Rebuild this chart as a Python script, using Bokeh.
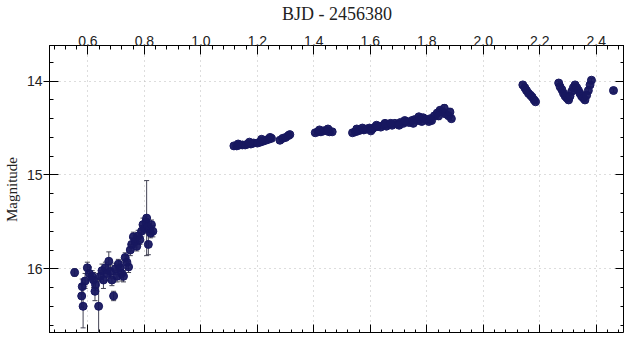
from bokeh.plotting import figure
from bokeh.models import (ColumnDataSource, LinearAxis, Range1d, SingleIntervalTicker,
                          NumeralTickFormatter, Whisker, TeeHead)
from bokeh.embed import file_html
from bokeh.resources import INLINE

# ---- data ----
# night 1: faint, with error bars
x1 = [0.553, 0.578, 0.580, 0.583, 0.590, 0.598, 0.605, 0.615, 0.620, 0.625, 0.627, 0.638,
      0.644, 0.650, 0.655, 0.662, 0.668, 0.674, 0.680, 0.685, 0.691, 0.697, 0.703, 0.708,
      0.714, 0.720, 0.726, 0.732, 0.738, 0.744, 0.750, 0.755, 0.761, 0.767, 0.773, 0.778,
      0.784, 0.790, 0.795, 0.800, 0.805, 0.808, 0.812, 0.814, 0.818, 0.822, 0.825, 0.830]
m1 = [16.04, 16.29, 16.19, 16.40, 16.13, 15.99, 16.05, 16.08, 16.12, 16.24, 16.17, 16.40,
      16.08, 16.02, 16.12, 15.99, 16.05, 15.92, 16.03, 16.12, 16.29, 16.00, 16.08, 15.95,
      15.99, 16.05, 16.08, 15.88, 15.93, 15.98, 15.80, 15.74, 15.66, 15.71, 15.76, 15.65,
      15.69, 15.60, 15.53, 15.57, 15.50, 15.46, 15.55, 15.74, 15.58, 15.62, 15.53, 15.60]
e1 = [0.04, 0.12, 0.08, 0.23, 0.08, 0.06, 0.07, 0.06, 0.08, 0.10, 0.06, 0.35,
      0.06, 0.07, 0.09, 0.06, 0.08, 0.10, 0.07, 0.06, 0.05, 0.06, 0.06, 0.05,
      0.07, 0.08, 0.06, 0.05, 0.07, 0.06, 0.06, 0.07, 0.05, 0.06, 0.05, 0.06,
      0.05, 0.06, 0.07, 0.05, 0.06, 0.40, 0.05, 0.11, 0.06, 0.05, 0.05, 0.06]

# night 2: brighter, small errors
x2 = [1.117, 1.127, 1.137, 1.147, 1.157, 1.167, 1.177, 1.187,
      1.200, 1.210, 1.220, 1.230, 1.240, 1.250,
      1.280, 1.290, 1.300, 1.310, 1.315,
      1.405, 1.415, 1.425, 1.435, 1.445, 1.455, 1.465,
      1.537, 1.547, 1.557, 1.567, 1.577, 1.587, 1.597, 1.607, 1.617, 1.627,
      1.637, 1.647, 1.657, 1.667, 1.677, 1.687, 1.697, 1.707, 1.717, 1.727,
      1.737, 1.747, 1.757, 1.767, 1.777, 1.787, 1.797, 1.807, 1.817, 1.827,
      1.837, 1.847, 1.857, 1.867, 1.877, 1.887,
      1.552, 1.602, 1.652, 1.702, 1.752, 1.782, 1.842, 1.862, 1.882,
      1.132, 1.172, 1.215, 1.245, 1.420, 1.450, 1.572, 1.622, 1.672, 1.722, 1.772, 1.812]
m2 = [14.69, 14.69, 14.68, 14.68, 14.68, 14.67, 14.67, 14.66,
      14.66, 14.65, 14.64, 14.63, 14.62, 14.61,
      14.63, 14.61, 14.60, 14.58, 14.57,
      14.55, 14.54, 14.54, 14.53, 14.53, 14.54, 14.54,
      14.55, 14.54, 14.53, 14.52, 14.52, 14.51, 14.50, 14.51, 14.49, 14.48,
      14.49, 14.47, 14.48, 14.46, 14.47, 14.45, 14.46, 14.44, 14.45, 14.43,
      14.44, 14.42, 14.41, 14.42, 14.40, 14.39, 14.41, 14.43, 14.42, 14.37,
      14.34, 14.31, 14.33, 14.35, 14.37, 14.40,
      14.51, 14.53, 14.45, 14.47, 14.45, 14.43, 14.37, 14.29, 14.33,
      14.67, 14.65, 14.62, 14.60, 14.52, 14.51, 14.50, 14.47, 14.45, 14.42, 14.38, 14.40]
e2 = [0.02] * 62 + [0.03, 0.02, 0.03, 0.02, 0.03, 0.03, 0.04, 0.04, 0.04] + [0.02] * 12

# night 3
x3 = [2.140, 2.147, 2.153, 2.160, 2.167, 2.173, 2.180, 2.185,
      2.267, 2.272, 2.278, 2.284, 2.290, 2.296, 2.302, 2.307, 2.313, 2.319, 2.325,
      2.331, 2.337, 2.342, 2.348, 2.354, 2.360, 2.366, 2.372, 2.378, 2.383,
      2.461]
m3 = [14.04, 14.07, 14.10, 14.13, 14.15, 14.17, 14.20, 14.22,
      14.02, 14.06, 14.09, 14.13, 14.16, 14.18, 14.20, 14.16, 14.11, 14.07, 14.04,
      14.07, 14.10, 14.13, 14.16, 14.18, 14.20, 14.15, 14.10, 14.04, 13.99,
      14.10]
e3 = [0.02] * 30

xs = x1 + x2 + x3
ms = m1 + m2 + m3
es = e1 + e2 + e3

src = ColumnDataSource(dict(x=xs, m=ms,
                            lo=[a - b for a, b in zip(ms, es)],
                            hi=[a + b for a, b in zip(ms, es)]))

NAVY = "#17175f"

p = figure(width=624, height=333, output_backend="svg", toolbar_location=None,
           x_range=Range1d(0.464, 2.50), y_range=Range1d(16.69, 13.62),
           x_axis_location="above", min_border_left=0, min_border_top=0,
           min_border_right=0, min_border_bottom=0, background_fill_color="white",
           border_fill_color="white", outline_line_color="black")

xt = SingleIntervalTicker(interval=0.2, num_minor_ticks=5)
yt = SingleIntervalTicker(interval=1, num_minor_ticks=5)

def style(ax, labels=True):
    ax.axis_line_color = "black"
    ax.major_tick_line_color = "black"
    ax.minor_tick_line_color = "black"
    ax.major_tick_in = 9
    ax.major_tick_out = 0
    ax.minor_tick_in = 4
    ax.minor_tick_out = 0
    ax.major_label_text_font = "Liberation Sans"
    ax.major_label_text_font_size = "14px"
    ax.major_label_text_color = "#222222"
    if not labels:
        ax.major_label_text_font_size = "0px"
        ax.major_label_text_color = None
        ax.major_label_standoff = 0

# top axis
ax_top = p.xaxis[0]
ax_top.ticker = xt
ax_top.formatter = NumeralTickFormatter(format="0.0")
style(ax_top)
ax_top.major_label_standoff = 0
ax_top.axis_label = "BJD - 2456380"
ax_top.axis_label_text_font = "Liberation Serif"
ax_top.axis_label_text_font_style = "normal"
ax_top.axis_label_text_font_size = "18px"
ax_top.axis_label_text_color = "#222222"
ax_top.axis_label_standoff = 9

# left axis
ax_left = p.yaxis[0]
ax_left.ticker = yt
ax_left.formatter = NumeralTickFormatter(format="0")
style(ax_left)
ax_left.major_tick_out = 6
ax_left.major_label_standoff = 1
ax_left.axis_label = "Magnitude"
ax_left.axis_label_text_font = "Liberation Serif"
ax_left.axis_label_text_font_style = "normal"
ax_left.axis_label_text_font_size = "15px"
ax_left.axis_label_text_color = "#222222"
ax_left.axis_label_standoff = 4

# bottom and right axes (ticks only)
ax_bot = LinearAxis(ticker=xt)
style(ax_bot, labels=False)
p.add_layout(ax_bot, "below")
ax_right = LinearAxis(ticker=yt)
style(ax_right, labels=False)
p.add_layout(ax_right, "right")

p.xgrid.ticker = xt
p.ygrid.ticker = yt
p.xgrid.grid_line_color = "#bbbbbb"
p.ygrid.grid_line_color = "#bbbbbb"
p.xgrid.grid_line_dash = "1 4"
p.ygrid.grid_line_dash = "1 4"

p.add_layout(Whisker(source=src, base="x", lower="lo", upper="hi", line_color="#444455",
                     line_width=1,
                     upper_head=TeeHead(size=5, line_color="#444455", line_width=1),
                     lower_head=TeeHead(size=5, line_color="#444455", line_width=1)))
p.scatter("x", "m", source=src, size=8, fill_color=NAVY, line_color=NAVY, fill_alpha=0.95)

open("out.html", "w").write(file_html(p, INLINE))
